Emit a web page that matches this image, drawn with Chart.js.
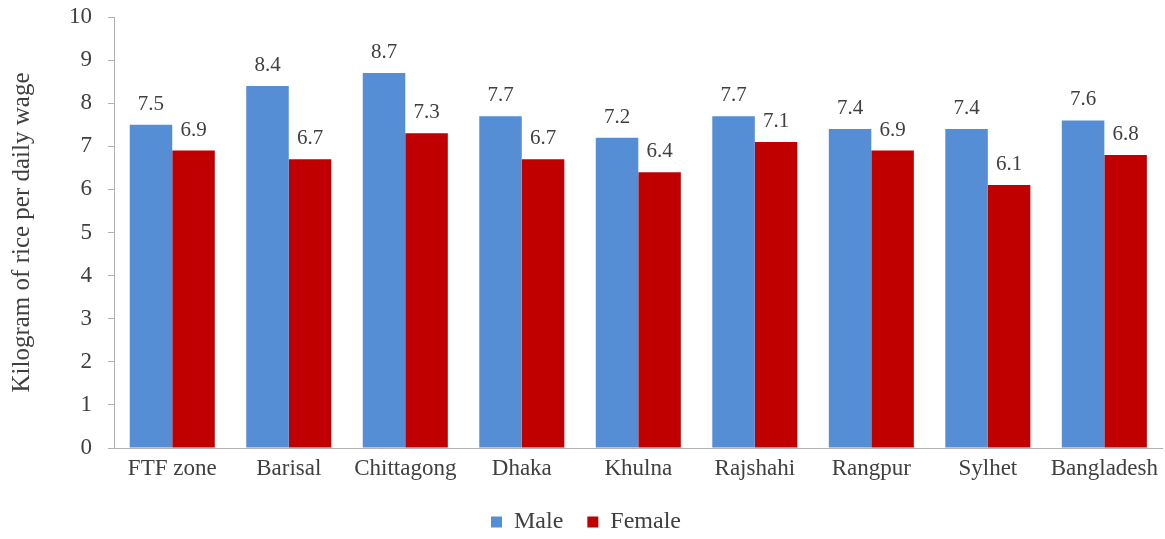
<!DOCTYPE html>
<html>
<head>
<meta charset="utf-8">
<script src="https://cdn.jsdelivr.net/npm/chart.js@4"></script>
<style>
  html, body { margin: 0; padding: 0; background: #fff; }
  #wrap { width: 1165px; height: 539px; }
</style>
</head>
<body>
<div id="wrap"><canvas id="myChart"></canvas></div>
<script>
const regions = ["FTF zone", "Barisal", "Chittagong", "Dhaka", "Khulna", "Rajshahi", "Rangpur", "Sylhet", "Bangladesh"];
const male = [7.5, 8.4, 8.7, 7.7, 7.2, 7.7, 7.4, 7.4, 7.6];
const female = [6.9, 6.7, 7.3, 6.7, 6.4, 7.1, 6.9, 6.1, 6.8];

const serif = "'Liberation Serif', 'Times New Roman', serif";
Chart.defaults.font.family = serif;
Chart.defaults.color = "#404040";

// value labels over each bar
const barLabels = {
  id: "barLabels",
  afterDatasetsDraw(chart) {
    const ctx = chart.ctx;
    ctx.save();
    ctx.font = "21px " + serif;
    ctx.fillStyle = "#404040";
    ctx.textAlign = "center";
    ctx.textBaseline = "bottom";
    chart.data.datasets.forEach((ds, i) => {
      chart.getDatasetMeta(i).data.forEach((bar, j) => {
        ctx.fillText(ds.data[j].toFixed(1), bar.x, bar.y - 10);
      });
    });
    ctx.restore();
  }
};

const ctx = document.getElementById("myChart").getContext("2d");
new Chart(ctx, {
  type: "bar",
  data: {
    labels: regions,
    datasets: [
      { label: "Male", data: male, backgroundColor: "#558ed5" },
      { label: "Female", data: female, backgroundColor: "#c00000" },
    ],
  },
  options: {
    responsive: true,
    maintainAspectRatio: false,
    animation: false,
    categoryPercentage: 0.73,
    barPercentage: 1.0,
    layout: { padding: { top: 17, right: 0, left: 7, bottom: -5 } },
    plugins: {
      tooltip: { enabled: false },
      legend: {
        position: "bottom",
        labels: {
          boxWidth: 11,
          boxHeight: 11,
          padding: 24,
          font: { size: 24, lineHeight: 1 },
        },
      },
    },
    scales: {
      x: {
        grid: { display: false, drawTicks: false },
        border: { color: "#b0b0b0", width: 1 },
        ticks: { font: { size: 23 }, padding: 7 },
        afterFit(scale) { scale.height = 38; },
      },
      y: {
        min: 0,
        max: 10,
        ticks: { stepSize: 1, font: { size: 23 }, padding: 16 },
        grid: { drawOnChartArea: false, tickLength: 6, color: "#b0b0b0" },
        border: { color: "#b0b0b0", width: 1 },
        title: {
          display: true,
          text: "Kilogram of rice per daily wage",
          font: { size: 25 },
          padding: { top: 0, bottom: 20 },
        },
        afterFit(scale) {
          scale.width = 107;
          scale.paddingTop = 0;
          scale.paddingBottom = 0;
        },
      },
    },
  },
  plugins: [barLabels],
});
</script>
</body>
</html>
